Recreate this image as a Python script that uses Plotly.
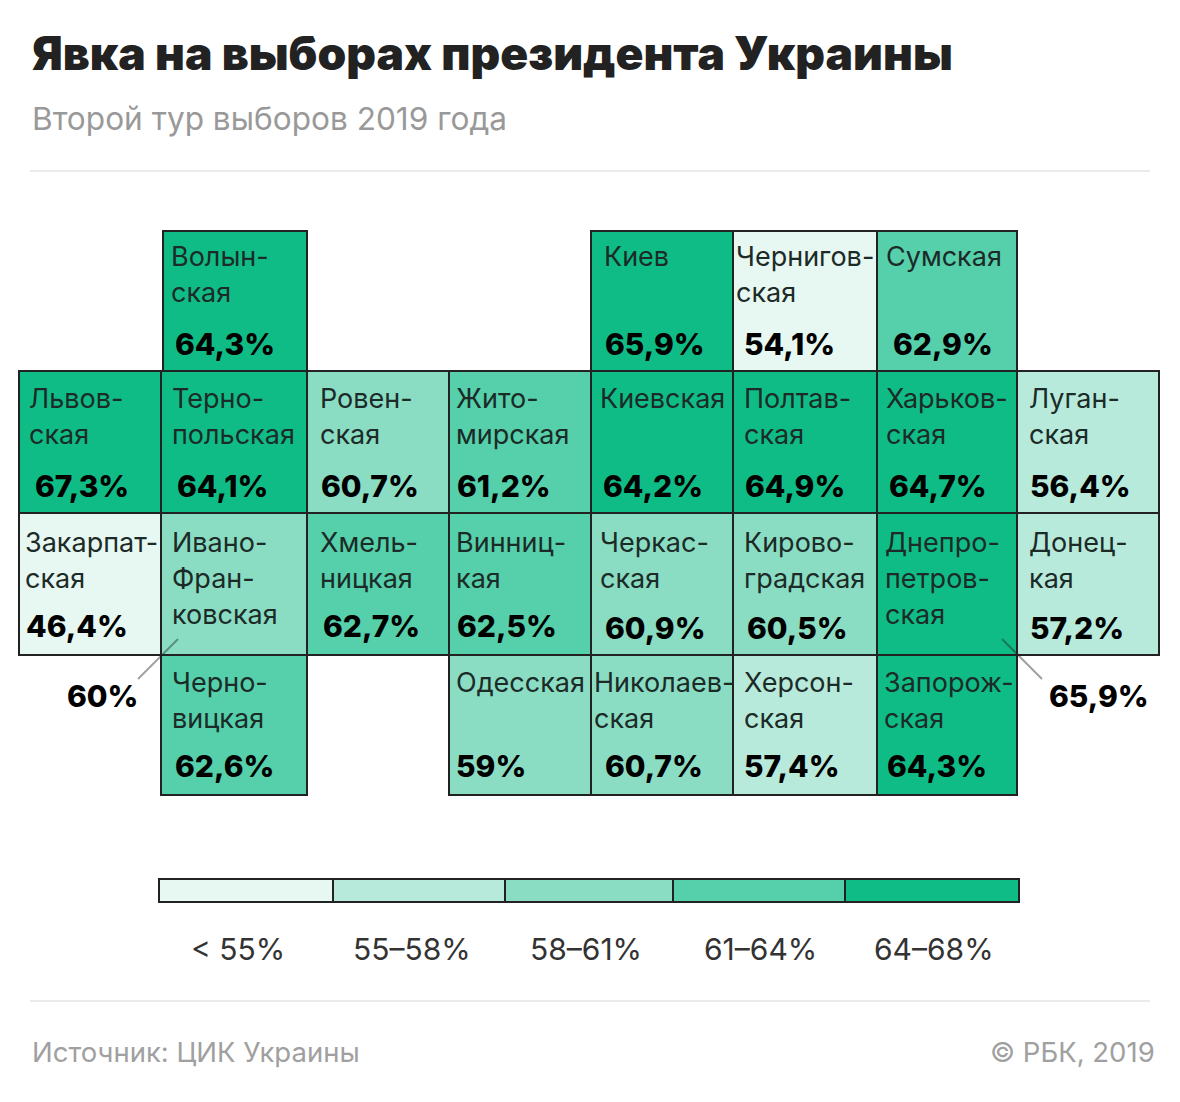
import plotly.graph_objects as go

# --- data ---
regions = [
    "Волын-|ская", "Киев", "Чернигов-|ская", "Сумская",
    "Львов-|ская", "Терно-|польская", "Ровен-|ская", "Жито-|мирская", "Киевская", "Полтав-|ская", "Харьков-|ская", "Луган-|ская",
    "Закарпат-|ская", "Ивано-|Фран-|ковская", "Хмель-|ницкая", "Винниц-|кая", "Черкас-|ская", "Кирово-|градская", "Днепро-|петров-|ская", "Донец-|кая",
    "Черно-|вицкая", "Одесская", "Николаев-|ская", "Херсон-|ская", "Запорож-|ская",
]
turnout = [
    64.3, 65.9, 54.1, 62.9,
    67.3, 64.1, 60.7, 61.2, 64.2, 64.9, 64.7, 56.4,
    46.4, 60, 62.7, 62.5, 60.9, 60.5, 65.9, 57.2,
    62.6, 59, 60.7, 57.4, 64.3,
]
legend_labels = ["< 55%", "55–58%", "58–61%", "61–64%", "64–68%"]
bin_limits = [55, 58, 61, 64, 68]

# --- styling and layout (page pixels) ---
bin_colors = ["#E7F8F2", "#B7EADB", "#8ADDC3", "#55D0AB", "#10BC86"]
col_edges = [19, 161, 307, 449, 591, 733, 877, 1017, 1159]
row_edges = [231, 371, 513, 655, 795]
cell_col = [1, 4, 5, 6,  0, 1, 2, 3, 4, 5, 6, 7,  0, 1, 2, 3, 4, 5, 6, 7,  1, 3, 4, 5, 6]
cell_row = [0, 0, 0, 0,  1, 1, 1, 1, 1, 1, 1, 1,  2, 2, 2, 2, 2, 2, 2, 2,  3, 3, 3, 3, 3]
name_x = [172, 605, 737, 887,  30, 173, 321, 457, 601, 745, 887, 1030,
          26, 173, 321, 457, 601, 745, 886, 1030,  173, 457, 595, 745, 885]
value_x = [176, 606, 745, 894,  36, 178, 322, 458, 604, 746, 890, 1031,
           27, 68, 324, 458, 606, 748, 1050, 1031,  176, 457, 606, 745, 888]
value_y = [345, 345, 345, 345,  487, 487, 487, 487, 487, 487, 487, 487,
           627, 697, 627, 627, 629, 629, 697, 629,  767, 767, 767, 767, 767]
name_y0 = [257, 399, 543, 683]
legend_edges = [159, 333, 505, 673, 845, 1019]
legend_text_x = [238, 412, 586, 760, 934]
INK = "#222222"
FONT = "Inter"


def color_for(v):
    for limit, c in zip(bin_limits, bin_colors):
        if v < limit:
            return c
    return bin_colors[-1]


def fmt(v):
    return f"{v:g}".replace(".", ",") + "%"


fig = go.Figure()

# cells
lefts = [col_edges[c] for c in cell_col]
lefts[0] = 163  # the top-row Volyn tile starts slightly inside its column
rights = [col_edges[c + 1] for c in cell_col]
tops = [row_edges[r] for r in cell_row]
bottoms = [row_edges[r + 1] for r in cell_row]
fig.add_trace(go.Bar(
    x=[(a + b) / 2 for a, b in zip(lefts, rights)],
    width=[b - a for a, b in zip(lefts, rights)],
    base=tops,
    y=[b - a for a, b in zip(tops, bottoms)],
    marker=dict(color=[color_for(v) for v in turnout], line=dict(color=INK, width=2)),
    customdata=regions, showlegend=False, hoverinfo="skip",
))

# legend strip
fig.add_trace(go.Bar(
    x=[(a + b) / 2 for a, b in zip(legend_edges, legend_edges[1:])],
    width=[b - a for a, b in zip(legend_edges, legend_edges[1:])],
    base=[879] * 5,
    y=[23] * 5,
    marker=dict(color=bin_colors, line=dict(color=INK, width=2)),
    showlegend=False, hoverinfo="skip",
))

# leaders
for xs, ys in (([138, 178], [679, 639]), ([1002, 1042], [639, 679])):
    fig.add_trace(go.Scatter(x=xs, y=ys, mode="lines", showlegend=False, hoverinfo="skip",
                             line=dict(color="rgba(30,30,30,0.42)", width=2)))

ann = []


def text(x, y, s, size, color="#111111", weight=400, anchor="left"):
    dx = {"left": -3, "center": 0, "right": 3}[anchor]
    ann.append(dict(x=x + dx, y=y - 1, xref="x", yref="y", text=s, showarrow=False,
                    xanchor=anchor, yanchor="middle", align=anchor,
                    font=dict(family=FONT, size=size, color=color, weight=weight)))


for name, v, r, nx, vx, vy in zip(regions, turnout, cell_row, name_x, value_x, value_y):
    for i, line in enumerate(name.split("|")):
        text(nx, name_y0[r] + 36 * i, line, 27, color="#1c2b27")
    text(vx, vy, fmt(v), 30, color="#000000", weight=800)

for x, s in zip(legend_text_x, legend_labels):
    text(x, 950, s, 30, color="#333333", anchor="center")

text(33, 54, "Явка на выборах президента Украины", 46.1, color="#222222", weight=900)
text(33, 119, "Второй тур выборов 2019 года", 31.6, color="#999999")
text(33, 1053, "Источник: ЦИК Украины", 27.5, color="#a0a0a0")
text(1154, 1053, "© РБК, 2019", 27.5, color="#a0a0a0", anchor="right")

rules = [dict(type="line", xref="x", yref="y", x0=30, x1=1150, y0=y, y1=y,
              line=dict(color="#ebebeb", width=2)) for y in (171, 1001)]

fig.update_layout(
    width=1180, height=1102, margin=dict(l=0, r=0, t=0, b=0),
    paper_bgcolor="white", plot_bgcolor="white",
    barmode="overlay", bargap=0,
    xaxis=dict(range=[0, 1180], visible=False, fixedrange=True),
    yaxis=dict(range=[1102, 0], visible=False, fixedrange=True),
    annotations=ann, shapes=rules,
)
fig.write_html("out.html", config={"displayModeBar": False},
               post_script="document.body.style.margin='0';document.body.style.overflow='hidden';")
